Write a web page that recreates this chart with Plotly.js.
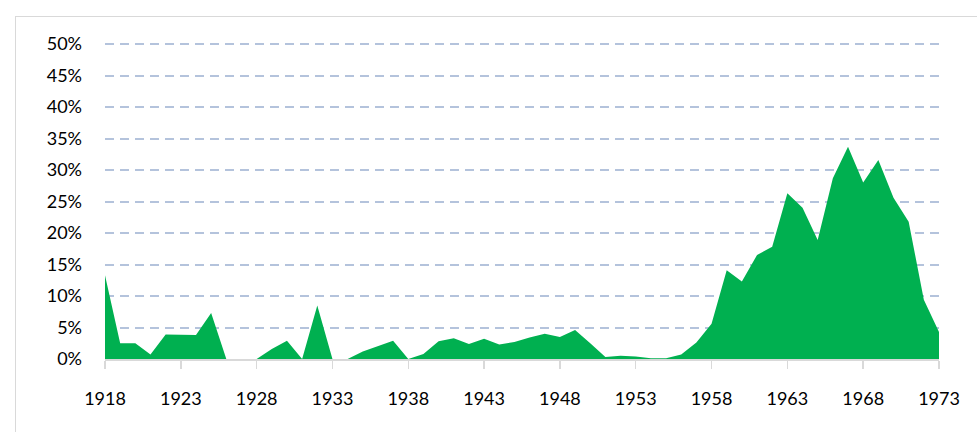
<!DOCTYPE html>
<html>
<head>
<meta charset="utf-8">
<script src="https://cdn.plot.ly/plotly-3.0.1.min.js"></script>
<style>
html,body{margin:0;padding:0;background:#fff;width:977px;height:432px;overflow:hidden;}
#frame{position:absolute;left:15px;top:16px;width:1000px;height:500px;border:1.5px solid #d9d9d9;box-sizing:border-box;}
#chart{position:absolute;left:0;top:0;width:977px;height:432px;}
</style>
</head>
<body>
<div id="frame"></div>
<div id="chart"></div>
<script>
const years = [];
for (let y = 1918; y <= 1973; y++) years.push(y);
const values = [
  13.3, 2.5, 2.5, 0.7, 3.9, 3.8, 3.8, 7.3, 0, 0,
  0, 1.6, 2.9, 0, 8.5, 0, 0, 1.2, 2.0, 2.9,
  0, 0.8, 2.8, 3.3, 2.4, 3.2, 2.3, 2.7, 3.4, 4.0,
  3.5, 4.6, 2.5, 0.3, 0.5, 0.4, 0.1, 0.1, 0.7, 2.6,
  5.6, 14.1, 12.3, 16.5, 17.8, 26.3, 24.0, 18.9, 28.7, 33.7,
  28.0, 31.6, 25.6, 21.8, 9.4, 4.3
];
const yTicks = [0, 5, 10, 15, 20, 25, 30, 35, 40, 45, 50];
const yTickLabels = yTicks.map(v => v + '%');
const xTicks = [1918, 1923, 1928, 1933, 1938, 1943, 1948, 1953, 1958, 1963, 1968, 1973];

const trace = {
  x: years, y: values, type: 'scatter', mode: 'lines',
  fill: 'tozeroy', fillcolor: '#00b050',
  line: {width: 0, color: '#00b050'}, hoverinfo: 'skip'
};
const font = {family: 'Lato, Calibri, Carlito, sans-serif', size: 18, color: '#000'};
const layout = {
  width: 977, height: 432,
  margin: {l: 105, r: 38, t: 43, b: 73},
  paper_bgcolor: 'rgba(0,0,0,0)', plot_bgcolor: 'rgba(0,0,0,0)',
  showlegend: false,
  font: font,
  xaxis: {
    range: [1918, 1973], tickvals: xTicks, ticktext: xTicks.map(String),
    showgrid: false, zeroline: false,
    showline: true, linecolor: '#d9d9d9', linewidth: 2,
    ticks: 'outside', ticklen: 8, tickwidth: 1.5, tickcolor: '#d9d9d9',
    ticklabelstandoff: 14, tickfont: font
  },
  yaxis: {
    range: [0, 50.16], tickvals: yTicks, ticktext: yTickLabels,
    showgrid: true, gridcolor: '#b4c3dc', gridwidth: 2, griddash: '9px,6px',
    zeroline: false, showline: false, ticks: '',
    ticklabelstandoff: 22, tickfont: font, layer: 'below traces'
  }
};
Plotly.newPlot('chart', [trace], layout, {displayModeBar: false, staticPlot: true});
</script>
</body>
</html>
